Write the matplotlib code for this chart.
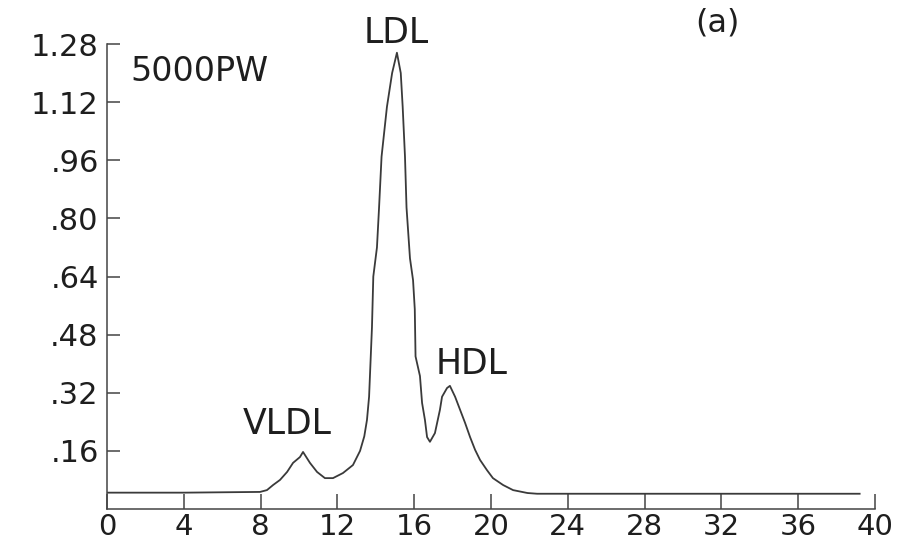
import matplotlib
matplotlib.use("Agg")
import matplotlib.pyplot as plt

# absorbance trace read along the elution volume
elution_ml = [0, 4, 7.97, 8.33, 8.65, 9.01, 9.38, 9.69, 10.05, 10.21, 10.57, 10.94,
              11.35, 11.77, 12.29, 12.81, 13.18, 13.4, 13.54, 13.65, 13.8, 13.87,
              14.06, 14.17, 14.3, 14.58, 14.85, 15.1, 15.3, 15.4, 15.52, 15.6,
              15.78, 15.94, 16.03, 16.07, 16.3, 16.41, 16.56, 16.67, 16.82, 17.08,
              17.34, 17.45, 17.71, 17.86, 18.13, 18.39, 18.65, 18.91, 19.17, 19.43,
              19.79, 20.1, 20.63, 21.15, 21.9, 22.4, 30, 39.2]
absorbance = [0.045, 0.045, 0.047, 0.052, 0.066, 0.080, 0.102, 0.127, 0.143, 0.157,
              0.127, 0.102, 0.085, 0.085, 0.099, 0.121, 0.160, 0.200, 0.245, 0.309,
              0.500, 0.640, 0.720, 0.830, 0.970, 1.107, 1.200, 1.256, 1.200, 1.107,
              0.970, 0.830, 0.690, 0.630, 0.550, 0.420, 0.366, 0.292, 0.245, 0.198,
              0.185, 0.209, 0.273, 0.309, 0.333, 0.339, 0.309, 0.273, 0.237, 0.198,
              0.163, 0.135, 0.107, 0.085, 0.066, 0.052, 0.044, 0.042, 0.042, 0.042]

x_ticks = [0, 4, 8, 12, 16, 20, 24, 28, 32, 36, 40]
y_ticks = [0.16, 0.32, 0.48, 0.64, 0.80, 0.96, 1.12, 1.28]
y_labels = [".16", ".32", ".48", ".64", ".80", ".96", "1.12", "1.28"]

peaks = ["VLDL", "LDL", "HDL"]
peak_x = [9.4, 15.05, 19.0]
peak_y = [0.234, 1.31, 0.40]

ink = "#1e1e1e"
fig = plt.figure(figsize=(9.01, 5.50), dpi=100)
ax = fig.add_axes([107/901, 1 - 509/550, 768/901, 465/550])

ax.plot(elution_ml, absorbance, color="#3a3a3a", lw=1.3)

ax.set_xlim(0, 40)
ax.set_ylim(0, 1.28)
ax.set_xticks(x_ticks)
ax.set_xticklabels([str(t) for t in x_ticks])
ax.set_yticks(y_ticks)
ax.set_yticklabels(y_labels)

for s in ["top", "right"]:
    ax.spines[s].set_visible(False)
for s in ["left", "bottom"]:
    ax.spines[s].set_color("#444444")
    ax.spines[s].set_linewidth(1.1)

ax.tick_params(axis="x", direction="in", length=11, width=1.1, color="#444444",
               pad=3, labelsize=21, labelcolor=ink)
ax.tick_params(axis="y", direction="in", length=9, width=1.1, color="#444444",
               pad=6, labelsize=22, labelcolor=ink)

for name, px, py in zip(peaks, peak_x, peak_y):
    ax.text(px, py, name, ha="center", va="center", fontsize=25, color=ink)

ax.text(1.2, 1.204, "5000PW", ha="left", va="center", fontsize=24, color=ink)
ax.text(31.8, 1.339, "(a)", ha="center", va="center", fontsize=23, color=ink)

fig.savefig("out.png", dpi=100)
